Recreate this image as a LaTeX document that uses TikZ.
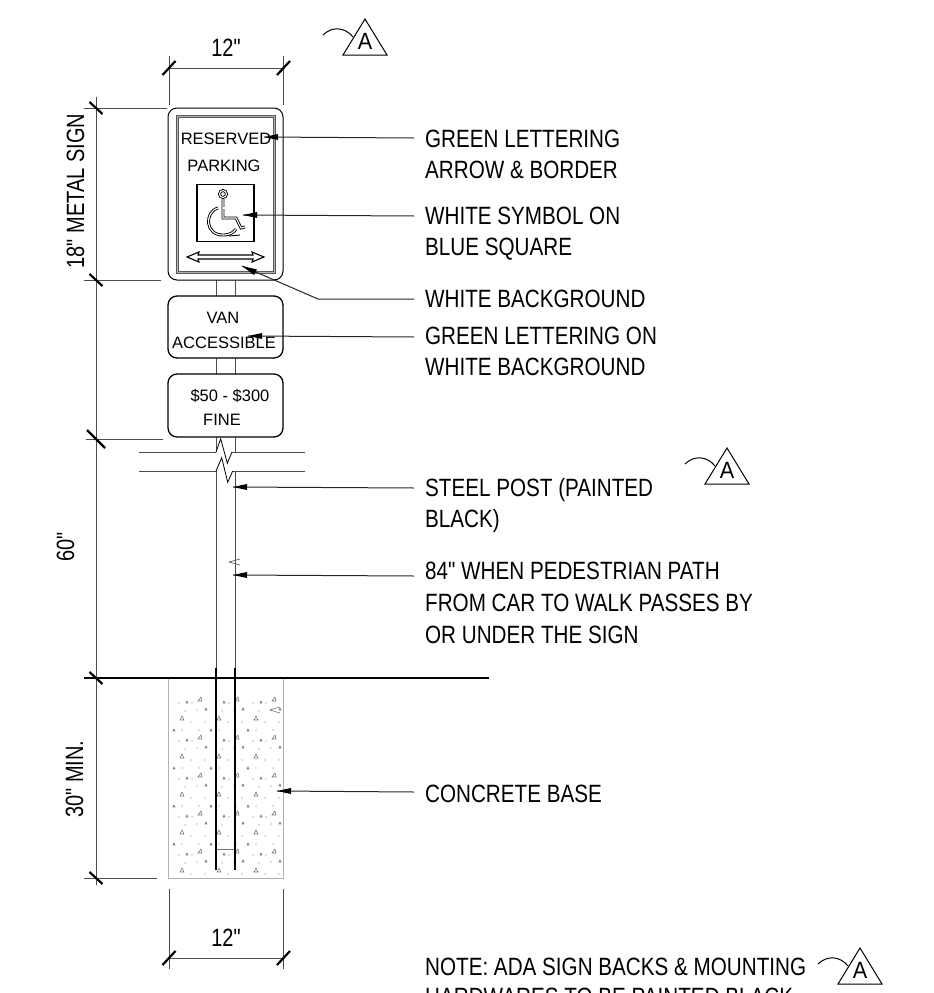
\documentclass[tikz,border=0pt]{standalone}
\usepackage{fontspec}
\setmainfont{Liberation Sans}[Ligatures=TeXOff]
\usetikzlibrary{calc}
\usetikzlibrary{arrows,shapes}
\usetikzlibrary{positioning}
\tikzstyle{every picture}=[x=1pt,y=-1pt]
\tikzstyle{lead}=[draw=black!85,line width=1pt]
\tikzstyle{tip}=[fill=black,draw=none]
\tikzstyle{dimn}=[draw=black!70,line width=1pt]
\tikzstyle{slash}=[draw=black,line width=2.2pt]
\tikzstyle{lbl}=[anchor=base west,inner sep=0,xscale=0.826,font=\fontsize{25}{25}\selectfont]
\tikzstyle{dimtxt}=[inner sep=0,anchor=base,xscale=0.8,font=\fontsize{25}{25}\selectfont]
\tikzstyle{signtxt}=[inner sep=0,anchor=base,font=\fontsize{16.5}{17}\selectfont]
\tikzstyle{signbox}=[draw=black,line width=1.3pt,rounded corners=9pt,fill=white,minimum width=115pt,inner sep=0]
\tikzstyle{grit}=[draw=black!55,line width=0.6pt]
\tikzstyle{chair}=[draw=black,line width=0.9pt,double=white,double distance=1.1pt]
\begin{document}
\begin{tikzpicture}
\useasboundingbox (0,0) rectangle (934,993);
\clip (0,0) rectangle (934,993);
% post
\draw [dimn] (216,280) -- (216,452);
\draw [dimn] (235,280) -- (235,452);
\draw [dimn] (216,471) -- (216,668);
\draw [dimn] (235,471) -- (235,668);
% signs
\node [signbox,line width=1pt,minimum height=172pt] (S1) at (225.5,194) {};
\node [signbox,minimum height=62pt] (S2) at (225.5,327) {};
\node [signbox,minimum height=63pt] (S3) at (225.5,405.5) {};
\draw [draw=black!30,line width=2.5pt] (177,116) rectangle (274,272);
\draw [draw=black!65,line width=0.8pt] (176,115) rectangle (275,273);
\draw [draw=black!65,line width=0.8pt] (178,117) rectangle (273,271);
\node [signtxt] (T1) at (226,144) {RESERVED};
\node [signtxt] (T2) at (224,171) {PARKING};
\node [signtxt] (T3) at (223,323) {VAN};
\node [signtxt] (T4) at (224,348) {ACCESSIBLE};
\node [signtxt] (T5) at (230,401) {\$50 - \$300};
\node [signtxt] (T6) at (222,425) {FINE};
% blue square and symbol
\node [draw=black,line width=1.2pt,minimum size=57pt,inner sep=0] (Q) at (225.5,213) {};
\draw [chair] (223,194) circle (3.5);
\draw [chair] (223,199) -- (223,218) -- (236,218) -- (241,228) -- (245,227);
\draw [chair] (223,208) -- (233,208);
\draw [chair] (218,208) .. controls (204,212) and (205,236) .. (224,235) .. controls (230,235) and (234,232) .. (236,229);
\draw [line width=0.9pt] (229,236) -- (240,235);
% double arrow
\draw [line width=1.1pt] (198,255) -- (253,255) -- (252,252) -- (264,257) -- (252,262) -- (253,259) -- (198,259) -- (199,262) -- (187,257) -- (199,252) -- cycle;
% break lines
\draw [dimn] (139,452) -- (216,452);
\draw [dimn] (232,452) -- (305,452);
\draw [dimn] (139,471) -- (216,471);
\draw [dimn] (232.7,471) -- (305,471);
\draw [line width=0.8pt] (216,452) -- (220.7,438.7) -- (227.3,463.3) -- (232,452);
\draw [line width=0.8pt] (216,471) -- (221.7,457.7) -- (227.7,482.3) -- (232.7,471);
% base
\draw [line width=1pt,draw=black!30] (168,678) -- (168,878) -- (283,878) -- (283,678);
\foreach \cx in {0,37,74} {
  \foreach \cy in {0,38,76,114,152} {
    \draw [grit] (200+\cx-2,699+\cy+2) -- (200+\cx+2,699+\cy+2) -- (200+\cx+1,699+\cy-2) -- cycle;
    \draw [grit] (182+\cx-2,718+\cy+2) -- (182+\cx+2,718+\cy+2) -- (182+\cx,718+\cy-2) -- cycle;
    \draw [grit] (187+\cx-1,702+\cy+1) -- (187+\cx+1,702+\cy+1) -- (187+\cx,702+\cy-1) -- cycle;
    \draw [grit] (206+\cx-1,709+\cy+1) -- (206+\cx+1,709+\cy+1) -- (206+\cx,709+\cy-1) -- cycle;
    \fill [black!55] (179+\cx,703+\cy) circle (0.6);
    \fill [black!55] (192+\cx,703+\cy) circle (0.6);
    \fill [black!55] (185+\cx,711+\cy) circle (0.6);
    \fill [black!55] (197+\cx,710+\cy) circle (0.6);
    \fill [black!55] (191+\cx,722+\cy) circle (0.6);
    \fill [black!55] (205+\cx,722+\cy) circle (0.6);
  }
  \foreach \cy in {0,38,76,114} {
    \draw [grit] (174+\cx-1,730+\cy+1) -- (174+\cx+1,730+\cy+1) -- (174+\cx,730+\cy-1) -- cycle;
    \fill [black!55] (182+\cx,730+\cy) circle (0.6);
    \fill [black!55] (199+\cx,730+\cy) circle (0.6);
  }
}
\draw [grit] (280,707) -- (270,710) -- (280,713);
\draw [grit] (216,849) -- (235,849);
\draw [line width=1.7pt] (216,668) -- (216,870);
\draw [line width=1.7pt] (235,668) -- (235,870);
\draw [line width=2pt] (84,678) -- (489,678);
\draw [draw=black!70,line width=0.6pt] (240,559) -- (229,562) -- (240,565);
% dimensions
\coordinate (P1) at (169,68);
\coordinate (P2) at (283.5,68);
\coordinate (P3) at (169,958);
\coordinate (P4) at (283.5,958);
\draw [dimn] (P1) -- (P2);
\draw [dimn] (P3) -- (P4);
\draw [dimn] (169,56) -- (169,105);
\draw [dimn] (283.5,56) -- (283.5,105);
\draw [dimn] (169,889) -- (169,969);
\draw [dimn] (283.5,889) -- (283.5,969);
\foreach \p in {P1,P2,P3,P4} {
  \draw [slash] ($(\p)+(-6.5,7)$) -- ($(\p)+(6.5,-7)$);
}
\coordinate (V1) at (96,108);
\coordinate (V2) at (96,280);
\coordinate (V3) at (96,439);
\coordinate (V4) at (96,678);
\coordinate (V5) at (96,878);
\draw [dimn] (96,97) -- (96,885);
\draw [dimn] (84,108) -- (167,108);
\draw [dimn] (84,280) -- (161,280);
\draw [dimn] (86,439) -- (163,439);
\draw [dimn] (84,878) -- (157,878);
\foreach \p in {V1,V2,V4,V5} {
  \draw [slash] ($(\p)+(-6.5,-6)$) -- ($(\p)+(6.5,6)$);
}
\draw [slash] ($(V3)+(-9,-9)$) -- ($(V3)+(9,9)$);
\node [dimtxt] (D1) at (226,56) {12"};
\node [dimtxt] (D2) at (226,946) {12"};
\node [rotate=90,dimtxt] (D3) at (84,191) {18" METAL SIGN};
\node [rotate=90,dimtxt] (D4) at (74,547) {60"};
\node [rotate=90,dimtxt] (D5) at (83,779) {30" MIN.};
% notes
\node [lbl] (L1) at (425,147) {GREEN LETTERING};
\node [lbl] (L2) at (425,178) {ARROW \& BORDER};
\node [lbl] (L3) at (425,224) {WHITE SYMBOL ON};
\node [lbl] (L4) at (425,255) {BLUE SQUARE};
\node [lbl] (L5) at (425,307) {WHITE BACKGROUND};
\node [lbl] (L6) at (425,344) {GREEN LETTERING ON};
\node [lbl] (L7) at (425,375) {WHITE BACKGROUND};
\node [lbl] (L8) at (425,496) {STEEL POST (PAINTED};
\node [lbl] (L9) at (425,527) {BLACK)};
\node [lbl] (L10) at (425,579) {84" WHEN PEDESTRIAN PATH};
\node [lbl] (L11) at (425,611) {FROM CAR TO WALK PASSES BY};
\node [lbl] (L12) at (425,643) {OR UNDER THE SIGN};
\node [lbl] (L13) at (425,802) {CONCRETE BASE};
\node [lbl] (L14) at (425,975) {NOTE: ADA SIGN BACKS \& MOUNTING};
\node [lbl] (L15) at (425,1005) {HARDWARES TO BE PAINTED BLACK};
% leaders
\coordinate (A1) at (264,137);
\coordinate (A2) at (243,215);
\coordinate (A3) at (242,266);
\coordinate (A4) at (248,336);
\coordinate (A5) at (233,487);
\coordinate (A6) at (233,575);
\coordinate (A7) at (277,791);
\draw [lead] ($(L1.base west)+(-11,-9)$) -- (A1);
\draw [lead] ($(L3.base west)+(-11,-8)$) -- (A2);
\draw [lead] ($(L5.base west)+(-11,-8)$) -- (318,299) -- (A3);
\draw [lead] ($(L6.base west)+(-11,-7)$) -- (A4);
\draw [lead] ($(L8.base west)+(-11,-8)$) -- (A5);
\draw [lead] ($(L10.base west)+(-11,-3)$) -- (A6);
\draw [lead] ($(L13.base west)+(-11,-10)$) -- (A7);
\foreach \p in {A1,A2,A4,A5,A6,A7} {
  \fill [tip] (\p) -- ($(\p)+(14,-3)$) -- ($(\p)+(14,3)$) -- cycle;
}
\fill [tip] (A3) -- ++(15,3.5) -- ++(-3,5.5) -- cycle;
% revision marks
\foreach \n/\rx/\ry in {1/365/19,2/727/448,3/860/948} {
  \draw [line width=1pt] (\rx,\ry) -- (\rx-22,\ry+36) -- (\rx+22,\ry+36) -- cycle;
  \node [inner sep=0,anchor=base,xscale=0.92,font=\fontsize{23.5}{24}\selectfont] (R\n) at (\rx,\ry+30.5) {A};
  \draw [line width=1pt] (\rx-42,\ry+16) .. controls (\rx-33,\ry+7) and (\rx-20,\ry+8) .. (\rx-12,\ry+18);
}
\end{tikzpicture}
\end{document}
